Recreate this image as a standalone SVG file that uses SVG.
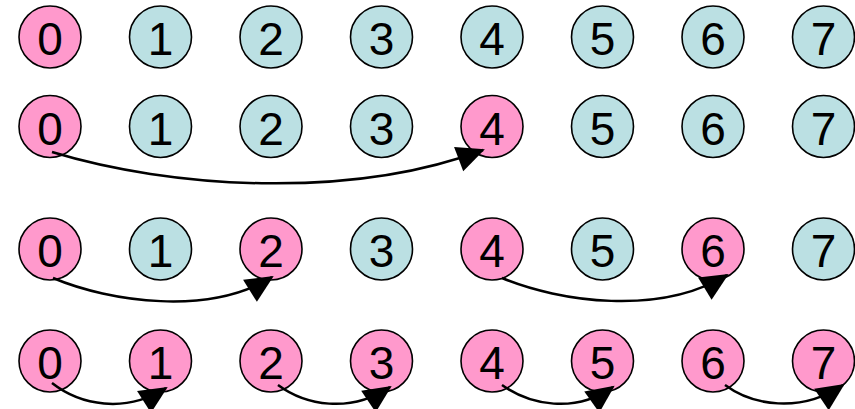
<svg xmlns="http://www.w3.org/2000/svg" width="855" height="409" viewBox="0 0 855 409">
<defs>
<style>
.n circle{stroke:#000;stroke-width:1.6}
.p circle{fill:#FF99CC}
.t circle{fill:#BBE0E3}
.n text{font-family:"Liberation Sans",Arial,sans-serif;font-size:46px;text-anchor:middle;fill:#000}
.c path{fill:none;stroke:#000;stroke-width:2.5}
</style>
<marker id="ah" markerUnits="userSpaceOnUse" markerWidth="32" markerHeight="30" refX="26" refY="13" orient="auto" overflow="visible">
<path d="M0,0 L28,13 L0,26 z" fill="#000"/>
</marker>
</defs>
<g id="r1">
<g id="r1n0" class="n p"><circle cx="50" cy="37" r="31"/><text x="50" y="55">0</text></g>
<g id="r1n1" class="n t"><circle cx="160.5" cy="37" r="31"/><text x="160.5" y="55">1</text></g>
<g id="r1n2" class="n t"><circle cx="271" cy="37" r="31"/><text x="271" y="55">2</text></g>
<g id="r1n3" class="n t"><circle cx="381.5" cy="37" r="31"/><text x="381.5" y="55">3</text></g>
<g id="r1n4" class="n t"><circle cx="492" cy="37" r="31"/><text x="492" y="55">4</text></g>
<g id="r1n5" class="n t"><circle cx="602.5" cy="37" r="31"/><text x="602.5" y="55">5</text></g>
<g id="r1n6" class="n t"><circle cx="713" cy="37" r="31"/><text x="713" y="55">6</text></g>
<g id="r1n7" class="n t"><circle cx="823.5" cy="37" r="31"/><text x="823.5" y="55">7</text></g>
</g>
<g id="r2">
<g id="r2n0" class="n p"><circle cx="50" cy="126.5" r="31"/><text x="50" y="144.5">0</text></g>
<g id="r2n1" class="n t"><circle cx="160.5" cy="126.5" r="31"/><text x="160.5" y="144.5">1</text></g>
<g id="r2n2" class="n t"><circle cx="271" cy="126.5" r="31"/><text x="271" y="144.5">2</text></g>
<g id="r2n3" class="n t"><circle cx="381.5" cy="126.5" r="31"/><text x="381.5" y="144.5">3</text></g>
<g id="r2n4" class="n p"><circle cx="492" cy="126.5" r="31"/><text x="492" y="144.5">4</text></g>
<g id="r2n5" class="n t"><circle cx="602.5" cy="126.5" r="31"/><text x="602.5" y="144.5">5</text></g>
<g id="r2n6" class="n t"><circle cx="713" cy="126.5" r="31"/><text x="713" y="144.5">6</text></g>
<g id="r2n7" class="n t"><circle cx="823.5" cy="126.5" r="31"/><text x="823.5" y="144.5">7</text></g>
</g>
<g id="r3">
<g id="r3n0" class="n p"><circle cx="50" cy="249" r="31"/><text x="50" y="267">0</text></g>
<g id="r3n1" class="n t"><circle cx="160.5" cy="249" r="31"/><text x="160.5" y="267">1</text></g>
<g id="r3n2" class="n p"><circle cx="271" cy="249" r="31"/><text x="271" y="267">2</text></g>
<g id="r3n3" class="n t"><circle cx="381.5" cy="249" r="31"/><text x="381.5" y="267">3</text></g>
<g id="r3n4" class="n p"><circle cx="492" cy="249" r="31"/><text x="492" y="267">4</text></g>
<g id="r3n5" class="n t"><circle cx="602.5" cy="249" r="31"/><text x="602.5" y="267">5</text></g>
<g id="r3n6" class="n p"><circle cx="713" cy="249" r="31"/><text x="713" y="267">6</text></g>
<g id="r3n7" class="n t"><circle cx="823.5" cy="249" r="31"/><text x="823.5" y="267">7</text></g>
</g>
<g id="r4">
<g id="r4n0" class="n p"><circle cx="50" cy="361" r="31"/><text x="50" y="379">0</text></g>
<g id="r4n1" class="n p"><circle cx="160.5" cy="361" r="31"/><text x="160.5" y="379">1</text></g>
<g id="r4n2" class="n p"><circle cx="271" cy="361" r="31"/><text x="271" y="379">2</text></g>
<g id="r4n3" class="n p"><circle cx="381.5" cy="361" r="31"/><text x="381.5" y="379">3</text></g>
<g id="r4n4" class="n p"><circle cx="492" cy="361" r="31"/><text x="492" y="379">4</text></g>
<g id="r4n5" class="n p"><circle cx="602.5" cy="361" r="31"/><text x="602.5" y="379">5</text></g>
<g id="r4n6" class="n p"><circle cx="713" cy="361" r="31"/><text x="713" y="379">6</text></g>
<g id="r4n7" class="n p"><circle cx="823.5" cy="361" r="31"/><text x="823.5" y="379">7</text></g>
</g>
<g id="connectors" class="c">
<path d="M52,152 C170,188 350,200 483,150" marker-end="url(#ah)"/>
<path d="M53,278 C110,302 210,316 272,277" marker-end="url(#ah)"/>
<path d="M502,278 C560,302 660,316 727,275" marker-end="url(#ah)"/>
<path d="M52,383 C80,405 125,414 166,388" marker-end="url(#ah)"/>
<path d="M278,385 C305,405 350,414 390,387" marker-end="url(#ah)"/>
<path d="M502,385 C530,405 575,414 613,387" marker-end="url(#ah)"/>
<path d="M725,385 C752,405 800,414 843,385" marker-end="url(#ah)"/>
</g>
</svg>
